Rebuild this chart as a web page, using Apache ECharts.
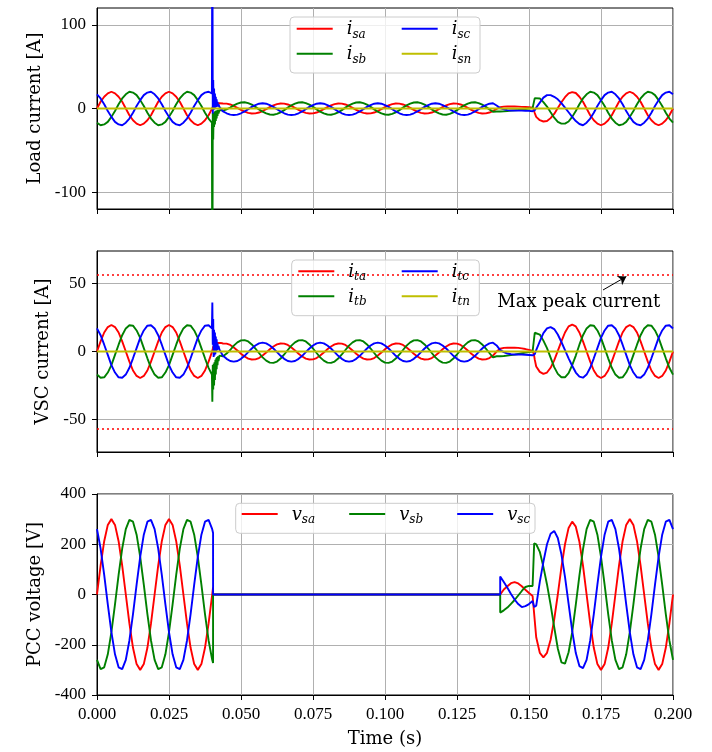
<!DOCTYPE html>
<html><head><meta charset="utf-8">
<script src="https://cdn.jsdelivr.net/npm/echarts@6/dist/echarts.min.js"></script>
<style>html,body{margin:0;padding:0;background:#fff}#c{width:712px;height:752px}</style>
</head><body><div id="c"></div>
<script>
// ---------- DATA (time in ms) ----------
const X_TICKS = [0, 25, 50, 75, 100, 125, 150, 175, 200];
const Y1_TICKS = [-100, 0, 100];
const Y2_TICKS = [-50, 0, 50];
const Y3_TICKS = [-400, -200, 0, 200, 400];
const MAX_PEAK = 56.57;
const ANNOT_TEXT_AT = [167.3, 36.4];
const ARROW_FROM = [175.7, 45.3];
const ARROW_TO = [183.8, 55.2];

const T_I = [
0,1.25,2.5,3.75,5,6.25,7.5,8.75,10,11.25,12.5,13.75,15,16.25,17.5,18.75,20,21.25,22.5,23.75,25,26.25,27.5,28.75,30,31.25,32.5,33.75,35,36.25,37.5,38.75,
39.9,40.05,40.2,40.35,40.5,40.65,40.8,40.95,41.1,41.25,41.4,41.55,41.7,41.85,42,42.2,42.5,43,
43.75,45,46.25,47.5,48.75,50,51.25,52.5,53.75,55,56.25,57.5,58.75,
60,61.25,62.5,63.75,65,66.25,67.5,68.75,70,71.25,72.5,73.75,75,76.25,77.5,78.75,
80,81.25,82.5,83.75,85,86.25,87.5,88.75,90,91.25,92.5,93.75,95,96.25,97.5,98.75,
100,101.25,102.5,103.75,105,106.25,107.5,108.75,110,111.25,112.5,113.75,115,116.25,117.5,118.75,
120,121.25,122.5,123.75,125,126.25,127.5,128.75,130,131.25,132.5,133.75,135,136.25,137.5,
138.75,140,141.25,142.5,143.75,145,146.25,147.5,148.75,150,151.25,151.7,152,
152.5,153.75,155,156.25,157.5,158.75,160,161.25,162.5,163.75,165,166.25,167.5,168.75,170,171.25,172.5,173.75,175,176.25,177.5,178.75,180,181.25,182.5,183.75,185,186.25,187.5,188.75,190,191.25,192.5,193.75,195,196.25,197.5,198.75,200];

const I_SA = [
0,8,14,18,20,18,14,8,0,-8,-14,-18,-20,-18,-14,-8,0,8,14,18,20,18,14,8,0,-8,-14,-18,-20,-18,-14,-8,
-0.5,-0.5,2,4,3,5,4,5.5,5,6,5.5,6.2,6,6.4,6.3,6.4,6.3,6.2,
5.9,5.8,4.8,3,0.8,-1.6,-3.7,-5.2,-5.9,-5.8,-4.8,-3,-0.8,
1.6,3.7,5.2,5.9,5.8,4.8,3,0.8,-1.6,-3.7,-5.2,-5.9,-5.8,-4.8,-3,-0.8,
1.6,3.7,5.2,5.9,5.8,4.8,3,0.8,-1.6,-3.7,-5.2,-5.9,-5.8,-4.8,-3,-0.8,
1.6,3.7,5.2,5.9,5.8,4.8,3,0.8,-1.6,-3.7,-5.2,-5.9,-5.8,-4.8,-3,-0.8,
1.6,3.7,5.2,5.9,5.8,4.8,3,0.8,-1.6,-3.7,-5.2,-5.9,-5.8,-4.8,-3,
-0.5,1.5,2.2,2.4,2.4,2.4,2.2,2,1.8,1.5,1,-2,-5.5,
-10,-14,-15.5,-15,-11.5,-6.5,0.5,7.5,13.5,18,19.5,18.5,14,8,0,-8,-14,-18,-20,-18,-14,-8,0,8,14,18,20,18,14,8,0,-8,-14,-18,-20,-18,-14,-8,0];

const I_SB = [
-17,-20,-19,-16,-10,-3,5,12,17,20,19,16,10,3,-5,-12,-17,-20,-19,-16,-10,-3,5,12,17,20,19,16,10,3,-5,-12,
-17,-250,-5,-37,-5,-22,-4,-19,-3,-15,-2.5,-12,-2,-9,-1.5,-6,-2,-1.5,
-2.5,-1,1.2,3.8,5.9,7.2,7.4,6.5,4.6,1.9,-1,-3.8,-5.9,
-7.2,-7.4,-6.5,-4.6,-1.9,1,3.8,5.9,7.2,7.4,6.5,4.6,1.9,-1,-3.8,-5.9,
-7.2,-7.4,-6.5,-4.6,-1.9,1,3.8,5.9,7.2,7.4,6.5,4.6,1.9,-1,-3.8,-5.9,
-7.2,-7.4,-6.5,-4.6,-1.9,1,3.8,5.9,7.2,7.4,6.5,4.6,1.9,-1,-3.8,-5.9,
-7.2,-7.4,-6.5,-4.6,-1.9,1,3.8,5.9,7.2,7.4,6.5,4.6,1.9,-1,-3.8,
-3.6,-3.6,-3.4,-3,-2.6,-2.2,-1.8,-1.2,-0.6,0,0.5,0.5,12.4,
12.5,12,7.5,2.3,-4.5,-11,-16,-18,-18,-15.5,-10,-3,5,12,17,20,19,16,10,3,-5,-12,-17,-20,-19,-16,-10,-3,5,12,17,20,19,16,10,3,-5,-12,-17];

const I_SC = [
17,12,5,-3,-10,-16,-19,-20,-17,-12,-5,3,10,16,19,20,17,12,5,-3,-10,-16,-19,-20,-17,-12,-5,3,10,16,19,20,
18,250,-6,34,-2,24,0,18,1,14,2,11,2.5,8,2.5,5,2,0.5,
-3.5,-5.7,-7.3,-7.8,-7.3,-5.7,-3.5,-0.8,1.9,4.1,5.7,6.2,5.7,
4.1,1.9,-0.8,-3.5,-5.7,-7.3,-7.8,-7.3,-5.7,-3.5,-0.8,1.9,4.1,5.7,6.2,5.7,
4.1,1.9,-0.8,-3.5,-5.7,-7.3,-7.8,-7.3,-5.7,-3.5,-0.8,1.9,4.1,5.7,6.2,5.7,
4.1,1.9,-0.8,-3.5,-5.7,-7.3,-7.8,-7.3,-5.7,-3.5,-0.8,1.9,4.1,5.7,6.2,5.7,
4.1,1.9,-0.8,-3.5,-5.7,-7.3,-7.8,-7.3,-5.7,-3.5,-0.8,1.9,4.1,5.7,6.2,
3.5,0.5,-1,-2,-2.4,-2.4,-2.4,-2.4,-2.6,-2.8,-3.2,-3.6,-2,
1,7,13,16,16,14,11,6.5,1,-4.5,-10,-15,-18.5,-20,-17,-12,-5,3,10,16,19,20,17,12,5,-3,-10,-16,-19,-20,-17,-12,-5,3,10,16,19,20,17];

const T_N = [0, 200];
const I_SN = [0, 0];
const I_TN = [0, 0];

const I_TA = [
0,7.5,14,18,19.5,18,14,7.5,0,-7.5,-14,-18,-19.5,-18,-14,-7.5,0,7.5,14,18,19.5,18,14,7.5,0,-7.5,-14,-18,-19.5,-18,-14,-7.5,
-0.5,0,2,3.5,3,4.5,4,5,5,5.5,5.5,6,6,6.3,6.3,6.5,6.5,6.3,
5.9,5.8,4.8,3,0.8,-1.6,-3.7,-5.2,-5.9,-5.8,-4.8,-3,-0.8,
1.6,3.7,5.2,5.9,5.8,4.8,3,0.8,-1.6,-3.7,-5.2,-5.9,-5.8,-4.8,-3,-0.8,
1.6,3.7,5.2,5.9,5.8,4.8,3,0.8,-1.6,-3.7,-5.2,-5.9,-5.8,-4.8,-3,-0.8,
1.6,3.7,5.2,5.9,5.8,4.8,3,0.8,-1.6,-3.7,-5.2,-5.9,-5.8,-4.8,-3,-0.8,
1.6,3.7,5.2,5.9,5.8,4.8,3,0.8,-1.6,-3.7,-5.2,-5.9,-5.8,-4.8,-3,
0,2,2.7,2.8,2.8,2.8,2.7,2.3,1.8,1.2,0.5,-2,-6,
-11,-15,-16.5,-15.5,-12,-6.5,0.5,7.5,14,18.5,19.8,18.5,14,7.5,0,-7.5,-14,-18,-19.5,-18,-14,-7.5,0,7.5,14,18,19.5,18,14,7.5,0,-7.5,-14,-18,-19.5,-18,-14,-7.5,0];

const I_TB = [
-17,-19.3,-19,-15.5,-10,-2.5,5,12,17,19.3,19,15.5,10,2.5,-5,-12,-17,-19.3,-19,-15.5,-10,-2.5,5,12,17,19.3,19,15.5,10,2.5,-5,-12,
-17,-37,-10,-28,-9,-25,-8,-21,-6,-17,-5,-13,-4,-10,-3.5,-7,-3,-3,
-3.5,-1.5,1.1,4.3,6.7,8.2,8.4,7.4,5.2,2.2,-1.1,-4.3,-6.7,
-8.2,-8.4,-7.4,-5.2,-2.2,1.1,4.3,6.7,8.2,8.4,7.4,5.2,2.2,-1.1,-4.3,-6.7,
-8.2,-8.4,-7.4,-5.2,-2.2,1.1,4.3,6.7,8.2,8.4,7.4,5.2,2.2,-1.1,-4.3,-6.7,
-8.2,-8.4,-7.4,-5.2,-2.2,1.1,4.3,6.7,8.2,8.4,7.4,5.2,2.2,-1.1,-4.3,-6.7,
-8.2,-8.4,-7.4,-5.2,-2.2,1.1,4.3,6.7,8.2,8.4,7.4,5.2,2.2,-1.1,-4.3,
-3.5,-3.5,-3.3,-3,-2.7,-2.3,-1.8,-1.3,-0.8,-0.5,0,0.5,13.8,
13.5,12.5,8,2.5,-4.5,-11.5,-16.5,-19,-19,-16,-10,-3,5,12,17,19.3,19,15.5,10,2.5,-5,-12,-17,-19.3,-19,-15.5,-10,-2.5,5,12,17,19.3,19,15.5,10,2.5,-5,-12,-17];

const I_TC = [
17,12,5,-2.5,-10,-15.5,-19,-19.3,-17,-12,-5,2.5,10,15.5,19,19.3,17,12,5,-2.5,-10,-15.5,-19,-19.3,-17,-12,-5,2.5,10,15.5,19,19.3,
17,36,5,24,-4,16,-3,14,-2,11,0,9,1,6,1.5,4,1.5,0.5,
-3.2,-5.4,-7,-7.5,-7,-5.4,-3.2,-0.5,2.2,4.4,6,6.5,6,
4.4,2.2,-0.5,-3.2,-5.4,-7,-7.5,-7,-5.4,-3.2,-0.5,2.2,4.4,6,6.5,6,
4.4,2.2,-0.5,-3.2,-5.4,-7,-7.5,-7,-5.4,-3.2,-0.5,2.2,4.4,6,6.5,6,
4.4,2.2,-0.5,-3.2,-5.4,-7,-7.5,-7,-5.4,-3.2,-0.5,2.2,4.4,6,6.5,6,
4.4,2.2,-0.5,-3.2,-5.4,-7,-7.5,-7,-5.4,-3.2,-0.5,2.2,4.4,6,6.5,
4.5,1,-0.5,-1.5,-2,-2.2,-2.2,-2.2,-2.4,-2.6,-2.8,-3,-2,
1,7.5,13.5,17,18,16.5,12.5,7,1,-5,-10.5,-15.5,-18.5,-19.3,-17,-12,-5,2.5,10,15.5,19,19.3,17,12,5,-2.5,-10,-15.5,-19,-19.3,-17,-12,-5,2.5,10,15.5,19,19.3,17];

const T_V = [
0,1.25,2.5,3.75,5,6.25,7.5,8.75,10,11.25,12.5,13.75,15,16.25,17.5,18.75,20,21.25,22.5,23.75,25,26.25,27.5,28.75,30,31.25,32.5,33.75,35,36.25,37.5,38.75,40,
40.3,40.3,140,140,
141.25,142.5,143.75,145,146.25,147.5,148.75,150,151.25,151.8,151.8,
152.5,153.75,155,156.25,157.5,158.75,160,161.25,162.5,163.75,165,166.25,167.5,168.75,170,171.25,172.5,173.75,175,176.25,177.5,178.75,180,181.25,182.5,183.75,185,186.25,187.5,188.75,190,191.25,192.5,193.75,195,196.25,197.5,198.75,200];

const V_SA = [
0,115,212,277,300,277,212,115,0,-115,-212,-277,-300,-277,-212,-115,0,115,212,277,300,277,212,115,0,-115,-212,-277,-300,-277,-212,-115,0,
28,0,0,0,
20,33,45,49,44,33,19,6,-6,-13,-13,
-170,-232,-250,-232,-180,-100,0,108,200,265,290,270,210,115,0,-115,-212,-277,-300,-277,-212,-115,0,115,212,277,300,277,212,115,0,-115,-212,-277,-300,-277,-212,-115,0];

const V_SB = [
-260,-297,-290,-238,-150,-39,78,183,260,297,290,238,150,39,-78,-183,-260,-297,-290,-238,-150,-39,78,183,260,297,290,238,150,39,-78,-183,-260,
-273,0,0,-72,
-63,-52,-37,-22,-4,14,30,34,34,34,204,
200,170,110,40,-40,-130,-215,-270,-275,-230,-150,-40,75,180,260,297,290,238,150,39,-78,-183,-260,-297,-290,-238,-150,-39,78,183,260,297,290,238,150,39,-78,-183,-260];

const V_SC = [
260,183,78,-39,-150,-238,-290,-297,-260,-183,-78,39,150,238,290,297,260,183,78,-39,-150,-238,-290,-297,-260,-183,-78,39,150,238,290,297,260,
245,0,0,72,
50,27,2,-20,-38,-50,-46,-38,-26,-21,-50,
-45,50,130,200,242,253,225,160,70,-37,-145,-233,-285,-293,-260,-183,-78,39,150,238,290,297,260,183,78,-39,-150,-238,-290,-297,-260,-183,-78,39,150,238,290,297,260];

// ---------- CHART ----------
const RED = '#ff0000', GREEN = '#008000', BLUE = '#0000ff', OLIVE = '#bfbf00';
const TICK_FONT = 'Liberation Serif';
const LABEL_FONT = 'DejaVu Serif';

function pairs(T, V) {
  const n = Math.min(T.length, V.length), out = [];
  for (let i = 0; i < n; i++) out.push([T[i], V[i]]);
  return out;
}
function line(name, T, V, idx, color, extra) {
  return Object.assign({
    type: 'line', name, xAxisIndex: idx, yAxisIndex: idx, data: pairs(T, V),
    symbol: 'none', showSymbol: false, clip: true, silent: true, animation: false,
    lineStyle: { color, width: 1.9 }, itemStyle: { color }, emphasis: { disabled: true }, z: 2
  }, extra || {});
}

const GRID_TOP = [8, 251, 494], GRID_H = 201, GRID_L = 97, GRID_W = 576;
const grids = GRID_TOP.map(t => ({ left: GRID_L, top: t, width: GRID_W, height: GRID_H, show: true,
  borderColor: '#000', borderWidth: 1, backgroundColor: 'transparent', outerBoundsMode: 'none', containLabel: false }));

function xAxis(i, showLabels) {
  return {
    type: 'value', gridIndex: i, min: X_TICKS[0], max: X_TICKS[X_TICKS.length - 1], interval: X_TICKS[1] - X_TICKS[0],
    axisLine: { show: true, onZero: false, lineStyle: { color: '#000', width: 1 } },
    axisTick: { show: true, inside: false, length: 5, lineStyle: { color: '#000', width: 1 } },
    axisLabel: { show: showLabels, margin: 11, color: '#000', fontFamily: TICK_FONT, fontSize: 17,
      formatter: v => (v / 1000).toFixed(3) },
    splitLine: { show: true, lineStyle: { color: '#b0b0b0', width: 1 } },
    name: showLabels ? 'Time (s)' : '', nameLocation: 'middle', nameGap: 35,
    nameTextStyle: { fontFamily: LABEL_FONT, fontSize: 18, color: '#000' }
  };
}
function yAxis(i, min, max, ticks, name, gap) {
  return {
    type: 'value', gridIndex: i, min, max,
    axisLine: { show: true, onZero: false, lineStyle: { color: '#000', width: 1 } },
    axisTick: { show: true, inside: false, length: 5, customValues: ticks, lineStyle: { color: '#000', width: 1 } },
    axisLabel: { show: true, margin: 11, customValues: ticks, color: '#000', fontFamily: TICK_FONT, fontSize: 17 },
    splitLine: { show: true, lineStyle: { color: '#b0b0b0', width: 1 } },
    name, nameLocation: 'middle', nameGap: gap,
    nameTextStyle: { fontFamily: LABEL_FONT, fontSize: 18, color: '#000' }
  };
}

const rich = {
  b: { fontFamily: LABEL_FONT, fontStyle: 'italic', fontSize: 18, lineHeight: 24, verticalAlign: 'top', padding: [4, 0, 0, 9], color: '#000' },
  s: { fontFamily: LABEL_FONT, fontStyle: 'italic', fontSize: 12, lineHeight: 12, verticalAlign: 'bottom', color: '#000' }
};
function legendFmt(name) { const p = name.split('_'); return '{b|' + p[0] + '}{s|' + p[1] + '}'; }
function legend(data, left, top, gap) {
  return { data, left, top, orient: 'horizontal', itemGap: gap || 10, itemWidth: 36, itemHeight: 2, icon: 'rect', padding: 0,
    selectedMode: false, formatter: legendFmt, textStyle: { rich }, z: 10 };
}
function box(x, y, w, h) {
  return { type: 'rect', z: 5, silent: true, shape: { x, y, width: w, height: h, r: 4 },
    style: { fill: 'rgba(255,255,255,0.8)', stroke: '#cccccc', lineWidth: 1 } };
}
// legend rows: item centre y = top + LEG_OFF
const LEG_OFF = 14;
const ROW = 25;
const option = {
  animation: false,
  backgroundColor: '#fff',
  grid: grids,
  xAxis: [xAxis(0, false), xAxis(1, false), xAxis(2, true)],
  yAxis: [
    yAxis(0, -120, 120, Y1_TICKS, 'Load current [A]', 51),
    yAxis(1, -74, 74, Y2_TICKS, 'VSC current [A]', 44),
    yAxis(2, -400, 400, Y3_TICKS, 'PCC voltage [V]', 51)
  ],
  legend: [
    legend(['i_sa'], 296.7, 30.7 - LEG_OFF),
    legend(['i_sb'], 296.7, 30.7 + ROW - LEG_OFF),
    legend(['i_sc'], 401.7, 30.7 - LEG_OFF),
    legend(['i_sn'], 401.7, 30.7 + ROW - LEG_OFF),
    legend(['i_ta'], 298.3, 273.3 - LEG_OFF),
    legend(['i_tb'], 298.3, 273.3 + ROW - LEG_OFF),
    legend(['i_tc'], 401.7, 273.3 - LEG_OFF),
    legend(['i_tn'], 401.7, 273.3 + ROW - LEG_OFF),
    legend(['v_sa', 'v_sb', 'v_sc'], 241.7, 516 - LEG_OFF, 34)
  ],
  graphic: { elements: [box(290, 17, 190, 56), box(291.7, 260, 187.6, 55.7), box(235.7, 503.3, 299.3, 30)] },
  series: [
    line('i_sa', T_I, I_SA, 0, RED),
    line('i_sb', T_I, I_SB, 0, GREEN),
    line('i_sc', T_I, I_SC, 0, BLUE),
    line('i_sn', T_N, I_SN, 0, OLIVE),
    line('i_ta', T_I, I_TA, 1, RED),
    line('i_tb', T_I, I_TB, 1, GREEN),
    line('i_tc', T_I, I_TC, 1, BLUE),
    line('i_tn', T_N, I_TN, 1, OLIVE, {
      markLine: {
        silent: true, animation: false, symbol: ['none', 'none'], label: { show: false },
        lineStyle: { color: RED, type: [2, 3], width: 1.5 },
        data: [
          { yAxis: MAX_PEAK }, { yAxis: -MAX_PEAK },
          [ { coord: ARROW_FROM, symbol: 'none', lineStyle: { color: '#000', type: 'solid', width: 1 } },
            { coord: ARROW_TO, symbol: 'arrow', symbolSize: 8 } ]
        ]
      },
      markPoint: {
        silent: true, animation: false, symbol: 'rect', symbolSize: 1, itemStyle: { color: 'transparent' },
        label: { show: true, position: 'inside', formatter: 'Max peak current', fontFamily: LABEL_FONT, fontSize: 18, color: '#000' },
        data: [{ coord: ANNOT_TEXT_AT }]
      }
    }),
    line('v_sa', T_V, V_SA, 2, RED),
    line('v_sb', T_V, V_SB, 2, GREEN),
    line('v_sc', T_V, V_SC, 2, BLUE)
  ]
};

const chart = echarts.init(document.getElementById('c'), null, { renderer: 'canvas' });
chart.setOption(option);
</script>
</body></html>
